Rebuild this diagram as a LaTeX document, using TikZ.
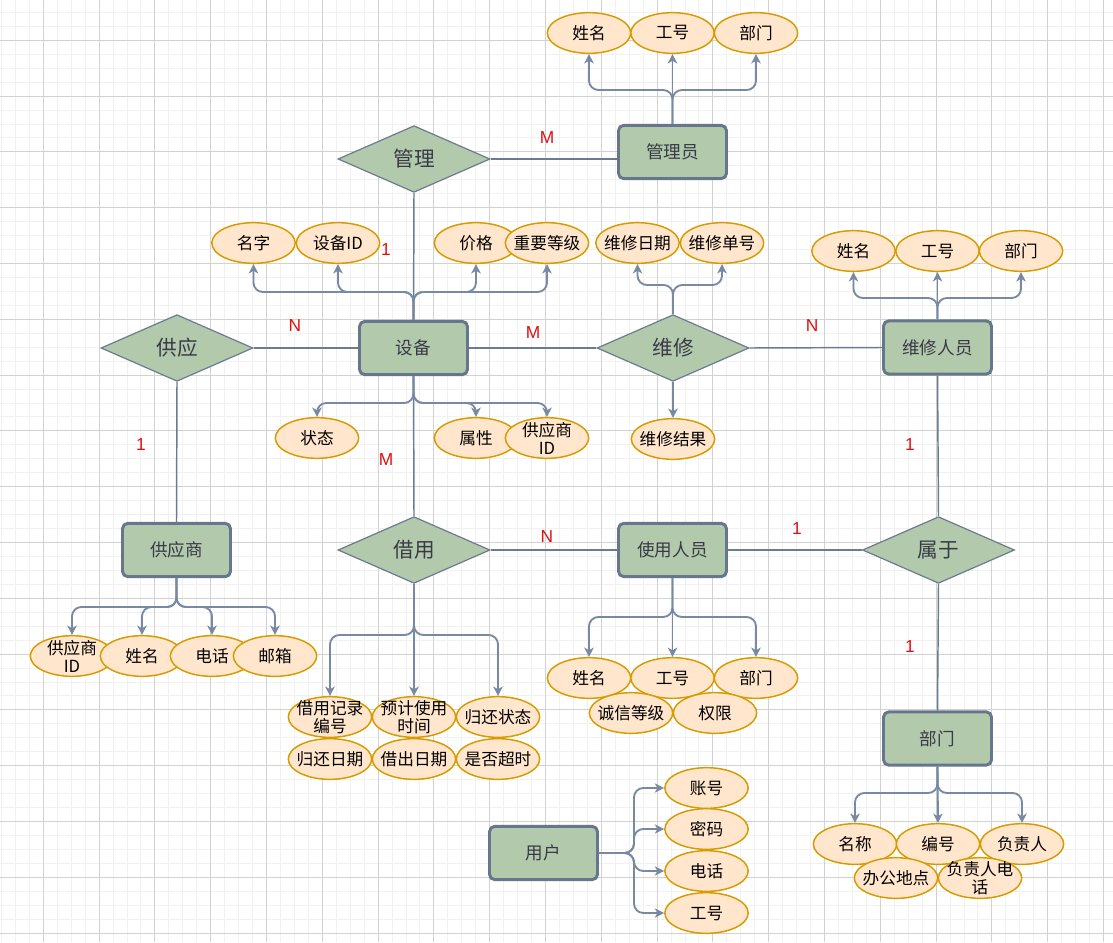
\documentclass[tikz,border=0pt]{standalone}
\usepackage{fontspec}
\setmainfont{Noto Sans CJK SC}
\newfontfamily\labfont{Liberation Sans}
\usetikzlibrary{shapes.geometric,arrows.meta}
\definecolor{entfill}{HTML}{B2C9AB}
\definecolor{entline}{HTML}{66768C}
\definecolor{entfont}{HTML}{383A48}
\definecolor{relline}{HTML}{6B7B90}
\definecolor{arrline}{HTML}{788AA3}
\definecolor{attfill}{HTML}{FFE6CC}
\definecolor{attline}{HTML}{D79B00}
\definecolor{labred}{HTML}{E01010}
\definecolor{gridminor}{HTML}{F1F1F1}
\definecolor{gridmajor}{HTML}{D2D2D2}
\tikzset{
  entity/.style={draw=entline, line width=2.2pt, fill=entfill, rounded corners=4pt,
    minimum width=81pt, minimum height=40pt, inner sep=0pt, text=entfont,
    font=\fontsize{13.2}{15}\selectfont},
  rel/.style={diamond, draw=relline, line width=0.9pt, fill=entfill,
    minimum width=114pt, minimum height=50pt, inner sep=0pt, text=entfont,
    font=\fontsize{15.5}{17}\selectfont},
  attr/.style={ellipse, draw=attline, line width=1.1pt, fill=attfill,
    minimum width=62.5pt, minimum height=30.5pt, inner sep=-8pt, align=center,
    font=\fontsize{12.5}{14}\selectfont},
  attr2/.style={attr, font=\fontsize{12.5}{13.5}\selectfont},
  link/.style={draw=relline, line width=1.1pt},
  arr/.style={draw=arrline, line width=1.4pt, rounded corners=7pt,
    -{Stealth[length=7pt, width=7pt, inset=2pt]}},
  card/.style={text=labred, font=\labfont\fontsize{13}{15}\selectfont}
}
\begin{document}
\begin{tikzpicture}[x=0.75pt,y=-0.75pt]
\useasboundingbox (0,0) rectangle (1113,942);
\fill[white] (0,0) rectangle (1113,942);
% grid
\foreach \i in {0,...,80} {
  \draw[gridminor, line width=0.75pt] ({1.45+13.95*\i},0) -- ({1.45+13.95*\i},942);
}
\foreach \i in {0,...,68} {
  \draw[gridminor, line width=0.75pt] (0,{-1.55+13.95*\i}) -- (1113,{-1.55+13.95*\i});
}
\foreach \i in {0,...,19} {
  \draw[gridmajor, line width=0.75pt] ({43.3+55.8*\i},0) -- ({43.3+55.8*\i},942);
}
\foreach \i in {0,...,16} {
  \draw[gridmajor, line width=0.75pt] (0,{40.3+55.8*\i}) -- (1113,{40.3+55.8*\i});
}

% entities
\node[entity] (gly) at (672.5,152) {管理员};
\node[entity] (sb) at (413.5,348) {设备};
\node[entity] (wxry) at (937.5,347.5) {维修人员};
\node[entity] (gys) at (176.5,550) {供应商};
\node[entity] (syry) at (672.5,550) {使用人员};
\node[entity] (bm) at (937.5,738.5) {部门};
\node[entity] (yh) at (543.5,853) {用户};

% relationships
\node[rel] (gl) at (414,159) {管理};
\node[rel] (gy) at (177,348) {供应};
\node[rel] (wx) at (673,348) {维修};
\node[rel] (jy) at (414,550) {借用};
\node[rel] (sy) at (938.5,550) {属于};

% relationship lines
\draw[link] (gl.east) -- (gl.east -| gly.west);
\draw[link] (gl.south) -- (sb.north);
\draw[link] (gy.east) -- (sb.west);
\draw[link] (sb.east) -- (wx.west);
\draw[link] (wx.east) -- (wxry.west);
\draw[link] (gy.south) -- (gys.north);
\draw[link] (sb.south) -- (jy.north);
\draw[link] (jy.east) -- (syry.west);
\draw[link] (syry.east) -- (sy.west);
\draw[link] (wxry.south) -- (sy.north);
\draw[link] (sy.south) -- (bm.north);

% attributes: 管理员
\node[attr] (a1) at (589,33) {姓名};
\node[attr] (a2) at (672.5,33) {工号};
\node[attr] (a3) at (756,33) {部门};
% 设备 top
\node[attr] (b1) at (253.5,243) {名字};
\node[attr] (b2) at (338,243) {设备ID};
\node[attr] (b3) at (476,243) {价格};
\node[attr] (b4) at (547,243) {重要等级};
% 设备 bottom
\node[attr] (c1) at (317,438) {状态};
\node[attr] (c2) at (476,438) {属性};
\node[attr2] (c3) at (547,438) {供应商\\ID};
% 维修
\node[attr] (d1) at (637.5,243) {维修日期};
\node[attr] (d2) at (722,243) {维修单号};
\node[attr] (d3) at (673,439) {维修结果};
% 维修人员
\node[attr] (e1) at (853.5,251) {姓名};
\node[attr] (e2) at (937.5,251) {工号};
\node[attr] (e3) at (1021,251) {部门};
% 供应商
\node[attr2] (f1) at (72,656) {供应商\\ID};
\node[attr] (f2) at (142,656) {姓名};
\node[attr] (f3) at (212,656) {电话};
\node[attr] (f4) at (275,656) {邮箱};
% 借用
\node[attr2] (g1) at (330,717) {借用记录\\编号};
\node[attr2] (g2) at (414,717) {预计使用\\时间};
\node[attr] (g3) at (498,717) {归还状态};
\node[attr] (g4) at (330,759) {归还日期};
\node[attr] (g5) at (414,759) {借出日期};
\node[attr] (g6) at (498,759) {是否超时};
% 使用人员
\node[attr] (h1) at (589,678) {姓名};
\node[attr] (h2) at (672.5,678) {工号};
\node[attr] (h3) at (756,678) {部门};
\node[attr] (h4) at (631,713) {诚信等级};
\node[attr] (h5) at (715,713) {权限};
% 部门
\node[attr] (i1) at (855,844) {名称};
\node[attr] (i2) at (938,844) {编号};
\node[attr] (i3) at (1022,844) {负责人};
\node[attr] (i4) at (896,878) {办公地点};
\node[attr2] (i5) at (980,878) {负责人电\\话};
% 用户
\node[attr] (j1) at (706.5,788) {账号};
\node[attr] (j2) at (706.5,829) {密码};
\node[attr] (j3) at (706.5,871) {电话};
\node[attr] (j4) at (706.5,913) {工号};

% attribute arrows
\draw[arr] (gly.north) -- (gly.north |- 0,90) -| (a1.south);
\draw[arr] (gly.north) -- (a2.south);
\draw[arr] (gly.north) -- (gly.north |- 0,90) -| (a3.south);

\draw[arr] (sb.north) -- (sb.north |- 0,292) -| (b1.south);
\draw[arr] (sb.north) -- (sb.north |- 0,292) -| (b2.south);
\draw[arr] (sb.north) -- (sb.north |- 0,292) -| (b3.south);
\draw[arr] (sb.north) -- (sb.north |- 0,292) -| (b4.south);

\draw[arr] (sb.south) -- (sb.south |- 0,403) -| (c1.north);
\draw[arr] (sb.south) -- (sb.south |- 0,403) -| (c2.north);
\draw[arr] (sb.south) -- (sb.south |- 0,403) -| (c3.north);

\draw[arr] (wx.north) -- (wx.north |- 0,285) -| (d1.south);
\draw[arr] (wx.north) -- (wx.north |- 0,285) -| (d2.south);
\draw[arr] (wx.south) -- (d3.north);

\draw[arr] (wxry.north) -- (wxry.north |- 0,298) -| (e1.south);
\draw[arr] (wxry.north) -- (e2.south);
\draw[arr] (wxry.north) -- (wxry.north |- 0,298) -| (e3.south);

\draw[arr] (gys.south) -- (gys.south |- 0,607) -| (f1.north);
\draw[arr] (gys.south) -- (gys.south |- 0,607) -| (f2.north);
\draw[arr] (gys.south) -- (gys.south |- 0,607) -| (f3.north);
\draw[arr] (gys.south) -- (gys.south |- 0,607) -| (f4.north);

\draw[arr] (jy.south) -- (jy.south |- 0,635) -| (g1.north);
\draw[arr] (jy.south) -- (g2.north);
\draw[arr] (jy.south) -- (jy.south |- 0,635) -| (g3.north);

\draw[arr] (syry.south) -- (syry.south |- 0,617) -| (h1.north);
\draw[arr] (syry.south) -- (h2.north);
\draw[arr] (syry.south) -- (syry.south |- 0,617) -| (h3.north);

\draw[arr] (bm.south) -- (bm.south |- 0,793) -| (i1.north);
\draw[arr] (bm.south) -- (i2.north);
\draw[arr] (bm.south) -- (bm.south |- 0,793) -| (i3.north);

\draw[arr] (yh.east) -- (634,853) |- (j1.west);
\draw[arr] (yh.east) -- (634,853) |- (j2.west);
\draw[arr] (yh.east) -- (634,853) |- (j3.west);
\draw[arr] (yh.east) -- (634,853) |- (j4.west);

% cardinalities
\node[card] (k1) at (547,138) {M};
\node[card] (k2) at (386,250) {1};
\node[card] (k3) at (295,326) {N};
\node[card] (k4) at (533,333) {M};
\node[card] (k5) at (812,326) {N};
\node[card] (k6) at (141,445) {1};
\node[card] (k7) at (386,460) {M};
\node[card] (k8) at (910,445) {1};
\node[card] (k9) at (547,537) {N};
\node[card] (k10) at (797,529) {1};
\node[card] (k11) at (910,647) {1};
\end{tikzpicture}
\end{document}
